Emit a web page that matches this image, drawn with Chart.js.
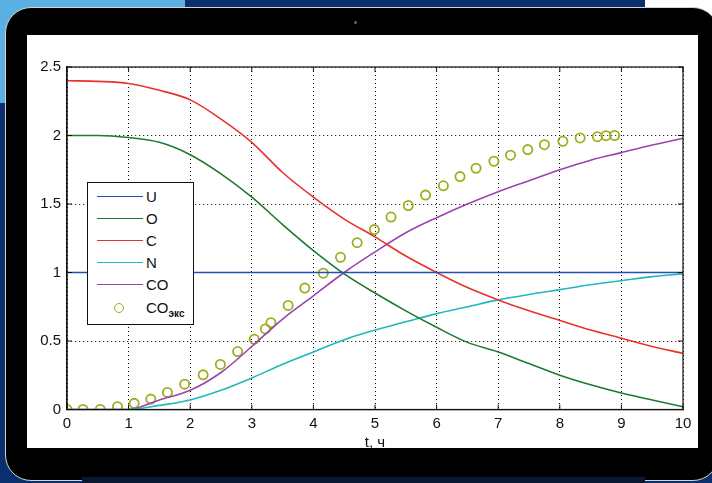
<!DOCTYPE html>
<html lang="ru">
<head>
<meta charset="UTF-8">
<title>CO</title>
<script src="https://cdn.jsdelivr.net/npm/chart.js"></script>
<style>
  body { margin: 0; width: 712px; height: 483px; overflow: hidden; background: #0b2f6c; position: relative; font-family: 'Liberation Sans', Arial, sans-serif; }
  .bg-light { position: absolute; left: 0; top: 0; width: 185px; height: 103px; background: #5aafe3; }
  .bg-white { position: absolute; left: 645px; top: 0; width: 67px; height: 30px; background: #ffffff; }
  .bezel { position: absolute; left: 5px; top: 7px; width: 712px; height: 472px; background: #000; border: 1.5px solid #d4d4d4; border-radius: 26px; }
  .glare { position: absolute; left: 82px; top: 477px; width: 563px; height: 6px; background: #0a1834; }
  .camera { position: absolute; left: 354px; top: 21px; width: 3px; height: 3px; border-radius: 2px; background: #666; }
  .screen { position: absolute; left: 27px; top: 35px; width: 671px; height: 413px; background: #fff; overflow: hidden; }
  #chart { position: absolute; left: 0; top: 0; }
  .legend { position: absolute; left: 60px; top: 147px; width: 105px; height: 141px; background: #fff; border: 1px solid #111; }
  .row { position: absolute; left: 0; height: 22px; width: 100%; }
  .swatch { position: absolute; left: 9px; width: 46px; top: 10px; height: 0; border-top: 1.6px solid; }
  .dot { position: absolute; left: 26px; top: 6px; width: 8px; height: 8px; border-radius: 50%; border: 1.8px solid; }
  .txt { position: absolute; left: 58px; top: 2px; font-size: 15px; color: #111; line-height: 18px; }
  .txt sub { font-size: 10px; font-weight: bold; vertical-align: -4px; }
</style>
</head>
<body>
<div class="bg-light"></div>
<div class="bg-white"></div>
<div class="bezel"></div>
<div class="glare"></div>
<div class="camera"></div>
<div class="screen">
  <canvas id="chart" width="671" height="440"></canvas>
  <div class="legend" id="legend"></div>
</div>

<script>
// time grid (hours) for the model curves
const tModel = [0, 0.5, 1, 1.5, 2, 2.5, 3, 3.5, 4, 4.5, 5, 5.5, 6, 6.5, 7, 7.5, 8, 8.5, 9, 9.5, 10];
const uVals  = [1, 1, 1, 1, 1, 1, 1, 1, 1, 1, 1, 1, 1, 1, 1, 1, 1, 1, 1, 1, 1];
const oVals  = [2.0, 2.0, 1.985, 1.95, 1.86, 1.72, 1.55, 1.35, 1.16, 0.99, 0.85, 0.72, 0.60, 0.49, 0.42, 0.335, 0.25, 0.18, 0.12, 0.07, 0.02];
const cVals  = [2.40, 2.395, 2.38, 2.33, 2.26, 2.12, 1.95, 1.73, 1.55, 1.39, 1.26, 1.12, 1.00, 0.89, 0.80, 0.72, 0.65, 0.58, 0.52, 0.46, 0.41];
const nVals  = [0, 0, 0, 0.03, 0.07, 0.14, 0.23, 0.33, 0.42, 0.51, 0.58, 0.64, 0.70, 0.75, 0.80, 0.84, 0.875, 0.91, 0.94, 0.97, 0.99];
const coVals = [0, 0, 0, 0.07, 0.14, 0.27, 0.46, 0.66, 0.83, 1.0, 1.15, 1.29, 1.40, 1.50, 1.59, 1.67, 1.75, 1.82, 1.875, 1.93, 1.98];

// experimental CO points
const tExp  = [0, 0.26, 0.54, 0.82, 1.09, 1.36, 1.63, 1.91, 2.21, 2.49, 2.77, 3.04, 3.22, 3.31, 3.59, 3.86, 4.16, 4.44, 4.71, 4.99, 5.26, 5.54, 5.82, 6.11, 6.38, 6.64, 6.93, 7.2, 7.48, 7.75, 8.05, 8.33, 8.61, 8.75, 8.89];
const coExp = [0, 0, 0, 0.02, 0.045, 0.076, 0.125, 0.185, 0.253, 0.329, 0.423, 0.513, 0.588, 0.634, 0.76, 0.886, 0.995, 1.111, 1.218, 1.313, 1.405, 1.489, 1.565, 1.633, 1.70, 1.761, 1.812, 1.856, 1.897, 1.933, 1.958, 1.982, 1.991, 1.999, 2.0];

const xTicks = [0, 1, 2, 3, 4, 5, 6, 7, 8, 9, 10];
const yTicks = [0, 0.5, 1, 1.5, 2, 2.5];

const tickFont = { family: "'Liberation Sans', Arial, sans-serif", size: 15 };

function pts(xs, ys) {
    return xs.map((x, i) => ({ x: x, y: ys[i] }));
}

function lineSet(label, ys, color) {
    return {
        label: label,
        data: pts(tModel, ys),
        borderColor: color,
        backgroundColor: color,
        borderWidth: 1.6,
        pointRadius: 0,
        cubicInterpolationMode: 'monotone',
        showLine: true
    };
}

// box round the axes + small inward ticks, like matlab
const boxPlugin = {
    id: 'box',
    afterDraw(chart) {
        const { ctx, chartArea: a, scales } = chart;
        ctx.save();
        ctx.strokeStyle = '#111';
        ctx.lineWidth = 1.2;
        ctx.strokeRect(a.left, a.top, a.right - a.left, a.bottom - a.top);
        ctx.lineWidth = 1;
        ctx.beginPath();
        xTicks.forEach(v => {
            const px = scales.x.getPixelForValue(v);
            ctx.moveTo(px, a.bottom); ctx.lineTo(px, a.bottom - 5);
            ctx.moveTo(px, a.top); ctx.lineTo(px, a.top + 5);
        });
        yTicks.forEach(v => {
            const py = scales.y.getPixelForValue(v);
            ctx.moveTo(a.left, py); ctx.lineTo(a.left + 5, py);
            ctx.moveTo(a.right, py); ctx.lineTo(a.right - 5, py);
        });
        ctx.stroke();
        ctx.restore();
    }
};

const ctx = document.getElementById('chart').getContext('2d');
const chart = new Chart(ctx, {
    type: 'line',
    data: {
        datasets: [
            lineSet('U', uVals, '#2350b8'),
            lineSet('O', oVals, '#1d7a30'),
            lineSet('C', cVals, '#e8322c'),
            lineSet('N', nVals, '#1fb9bb'),
            lineSet('CO', coVals, '#9b43b2'),
            {
                label: 'CO_экс',
                data: pts(tExp, coExp),
                showLine: false,
                pointRadius: 4.6,
                pointBorderWidth: 1.8,
                borderColor: '#9fae1e',
                pointBorderColor: '#9fae1e',
                pointBackgroundColor: 'rgba(0,0,0,0)',
                backgroundColor: 'rgba(0,0,0,0)'
            }
        ]
    },
    options: {
        responsive: false,
        animation: false,
        events: [],
        layout: { padding: { top: 32, right: 15, bottom: 0, left: 0 } },
        plugins: { legend: { display: false }, tooltip: { enabled: false } },
        scales: {
            x: {
                type: 'linear',
                min: 0,
                max: 10,
                afterFit: s => { s.height = 65.5; },
                afterBuildTicks: s => { s.ticks = xTicks.map(v => ({ value: v })); },
                ticks: { color: '#111', font: tickFont, padding: 5, maxRotation: 0, callback: v => String(v) },
                grid: { color: '#000', lineWidth: 1, drawTicks: false },
                border: { display: true, color: '#111', width: 1.2, dash: [1, 3] },
                title: { display: true, text: 't, ч', color: '#111', font: tickFont, padding: { top: 0, bottom: 23 } }
            },
            y: {
                min: 0,
                max: 2.5,
                afterFit: s => { s.width = 40; },
                afterBuildTicks: s => { s.ticks = yTicks.map(v => ({ value: v })); },
                ticks: { color: '#111', font: tickFont, padding: 6, callback: v => String(v) },
                grid: { color: '#000', lineWidth: 1, drawTicks: false },
                border: { display: true, color: '#111', width: 1.2, dash: [1, 3] }
            }
        }
    },
    plugins: [boxPlugin]
});

// legend box, built from the datasets
const legend = document.getElementById('legend');
chart.data.datasets.forEach((ds, i) => {
    const row = document.createElement('div');
    row.className = 'row';
    row.style.top = (2.5 + i * 22.2) + 'px';
    const mark = document.createElement('div');
    if (ds.showLine === false) {
        mark.className = 'dot';
        mark.style.borderColor = ds.borderColor;
    } else {
        mark.className = 'swatch';
        mark.style.borderTopColor = ds.borderColor;
    }
    row.appendChild(mark);
    const txt = document.createElement('div');
    txt.className = 'txt';
    const parts = ds.label.split('_');
    txt.textContent = parts[0];
    if (parts[1]) {
        const sub = document.createElement('sub');
        sub.textContent = parts[1];
        txt.appendChild(sub);
    }
    row.appendChild(txt);
    legend.appendChild(row);
});
</script>
</body>
</html>
